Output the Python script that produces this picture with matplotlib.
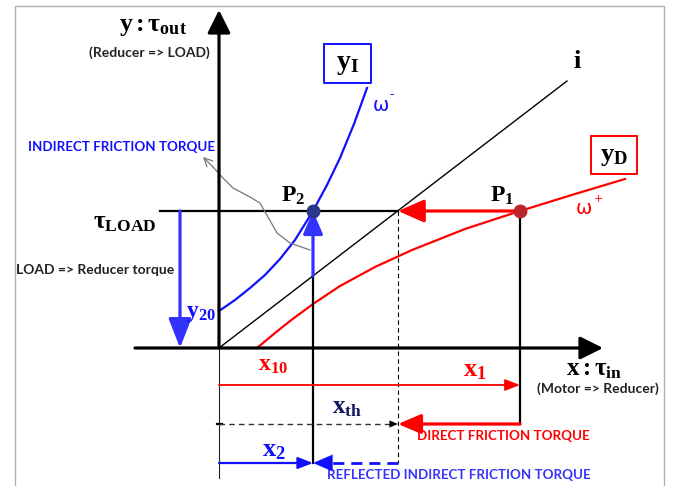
import matplotlib
matplotlib.use('Agg')
import matplotlib.pyplot as plt
import numpy as np

plt.rcParams['mathtext.fontset'] = 'custom'
plt.rcParams['mathtext.rm'] = 'Liberation Serif'
plt.rcParams['mathtext.bf'] = 'Liberation Serif:bold'
plt.rcParams['mathtext.it'] = 'Liberation Serif:italic'

# diagram geometry, in pixel units of the 678 x 486 picture (y grows downwards)
origin = (219, 348)
tau_load = 211
p1 = (520, 211)
p2 = (313, 211)
x_th = 398
i_end = (567, 81)

# friction curves
yI_x = [219, 235, 250, 265, 280, 295, 313, 327, 340, 354, 367]
yI_y = [311, 300, 288, 275, 259, 240, 211, 185, 158, 124, 88]
yD_x = [257, 275, 290, 313, 340, 375, 412, 465, 520, 575, 625]
yD_y = [348, 333, 321, 304, 286, 267, 250, 229, 211, 194, 179]

# grey wavy pointer to the indirect friction label
wave_x = [310, 290, 277, 268, 260, 250, 233, 222, 213, 203]
wave_y = [250, 243, 233, 217, 203, 197, 188, 177, 167, 157]

BLUE = '#1010ff'
ABLUE = '#3333ff'
RED = '#ff0000'

fig = plt.figure(figsize=(6.78, 4.86), dpi=100)
ax = fig.add_axes([0, 0, 1, 1])
ax.set_xlim(0, 678)
ax.set_ylim(486, 0)
ax.axis('off')


def arrow(start, end, color, lw, hw=7, hl=10, z=3):
    ax.annotate('', xy=end, xytext=start,
                arrowprops=dict(arrowstyle='-|>,head_width=%g,head_length=%g' % (hw / 2.0, hl),
                                color=color, lw=lw, shrinkA=0, shrinkB=0,
                                mutation_scale=1), zorder=z)


def head(end, direction, color, hw=7, hl=10):
    # solid arrow head only, at end pointing along direction
    start = (end[0] - direction[0] * 0.5, end[1] - direction[1] * 0.5)
    ax.annotate('', xy=end, xytext=start,
                arrowprops=dict(arrowstyle='-|>,head_width=%g,head_length=%g' % (hw / 2.0, hl),
                                color=color, lw=0.1, shrinkA=0, shrinkB=0,
                                mutation_scale=1), zorder=4)


# frame
ax.plot([15, 15, 664, 664], [490, 6, 6, 490], color='#b0b0b0', lw=1.0)

# axes
arrow((origin[0], origin[1]), (origin[0], 10), 'black', 2.3, hw=14, hl=14)
arrow((135, origin[1]), (603, origin[1]), 'black', 2.3, hw=14, hl=14)

# load level and i line
ax.plot([160, x_th], [tau_load, tau_load], color='black', lw=1.6)
ax.plot([origin[0], i_end[0]], [origin[1], i_end[1]], color='black', lw=1.0)

# curves
ax.plot(yI_x, yI_y, color=BLUE, lw=1.6, solid_joinstyle='round')
ax.plot(yD_x, yD_y, color=RED, lw=1.6, solid_joinstyle='round')

# verticals through P1 / P2
ax.plot([p1[0], p1[0]], [p1[1], 424], color='black', lw=1.6)
ax.plot([p2[0], p2[0]], [275, 463], color='black', lw=1.6)
ax.plot([origin[0], origin[0]], [origin[1], 478], color='#222222', lw=0.8)
ax.plot([x_th, x_th], [tau_load, 463], color='black', lw=0.8, ls=(0, (4, 3)))
ax.plot([217, 222], [424, 424], color='black', lw=1.6)

# arrows
arrow(p1, (x_th, tau_load), RED, 2.3, hw=14, hl=16)
arrow((p2[0], 276), (p2[0], tau_load), ABLUE, 2.3, hw=12, hl=14)
arrow((180, tau_load), (180, origin[1]), ABLUE, 2.3, hw=14, hl=18)
arrow((origin[0], 385), (p1[0], 385), RED, 1.3, hw=7, hl=9)
arrow((p1[0], 424), (x_th, 424), RED, 2.3, hw=12, hl=14)
ax.plot([origin[0], x_th - 6], [424, 424], color='#333333', lw=1.0, ls=(0, (4, 3)))
head((x_th, 424), (1, 0), 'black', hw=5, hl=6)
arrow((origin[0], 463), (p2[0], 463), BLUE, 1.6, hw=7, hl=9)
ax.plot([x_th, p2[0] + 14], [463, 463], color=BLUE, lw=2.0, ls=(0, (4, 2.5)))
head((p2[0], 463), (-1, 0), BLUE, hw=12, hl=14)

# grey pointer
ax.plot(wave_x[:-1], wave_y[:-1], color='#777777', lw=0.9, solid_joinstyle='round')
ax.annotate('', xy=(wave_x[-1], wave_y[-1]), xytext=(wave_x[-2], wave_y[-2]),
            arrowprops=dict(arrowstyle='->,head_width=3,head_length=6', color='#777777',
                            lw=0.9, shrinkA=0, shrinkB=0, mutation_scale=1))

# points
ax.plot(*p2, 'o', color='#2b3788', ms=9, zorder=5)
ax.plot(*p1, 'o', color='#b8262a', ms=9, zorder=5)

# boxes
ax.plot([324, 371, 371, 324, 324], [44, 44, 83, 83, 44], color=BLUE, lw=1.4)
ax.plot([591, 637, 637, 591, 591], [136, 136, 174, 174, 136], color=RED, lw=1.4)

# math labels
ser = dict(ha='center', va='center')
ax.text(153, 25, r'$\mathbf{y : \tau_{out}}$', fontsize=18.5, **ser)
ax.text(125, 222, r'$\mathbf{\tau_{LOAD}}$', fontsize=18, **ser)
ax.text(293, 195, r'$\mathbf{P_{2}}$', fontsize=17, **ser)
ax.text(502, 195, r'$\mathbf{P_{1}}$', fontsize=17, **ser)
ax.text(577, 61, r'$\mathbf{i}$', fontsize=19, **ser)
ax.text(347, 63, r'$\mathbf{y_{I}}$', fontsize=20, **ser)
ax.text(614, 155, r'$\mathbf{y_{D}}$', fontsize=19, **ser)
ax.text(201, 312, r'$\mathbf{y_{20}}$', fontsize=17, color=BLUE, **ser)
ax.text(273, 364, r'$\mathbf{x_{10}}$', fontsize=17, color=RED, **ser)
ax.text(475, 369, r'$\mathbf{x_{1}}$', fontsize=19, color=RED, **ser)
ax.text(594, 369, r'$\mathbf{x : \tau_{in}}$', fontsize=18, **ser)
ax.text(347, 407, r'$\mathbf{x_{th}}$', fontsize=18, color='#161660', **ser)
ax.text(274, 449, r'$\mathbf{x_{2}}$', fontsize=19, color=BLUE, **ser)

# omega labels (upright sans)
om = dict(ha='center', va='center', fontfamily='DejaVu Sans')
ax.text(381, 105, 'ω', fontsize=14, color=BLUE, **om)
ax.text(392, 95, '-', fontsize=9, color=BLUE, **om)
ax.text(584, 208, 'ω', fontsize=14, color=RED, **om)
ax.text(598, 199, '+', fontsize=8, color=RED, **om)

# captions
cap = dict(ha='center', va='center', fontfamily='Lato', fontweight='bold')
ax.text(149, 53, '(Reducer => LOAD)', color='#222222', fontsize=10, **cap)
ax.text(122, 147, 'INDIRECT FRICTION TORQUE', color=BLUE, fontsize=9.6, **cap)
ax.text(95, 270, 'LOAD => Reducer torque', color='#222222', fontsize=10, **cap)
ax.text(598, 389, '(Motor => Reducer)', color='#222222', fontsize=10, **cap)
ax.text(503, 436, 'DIRECT FRICTION TORQUE', color=RED, fontsize=9.6, **cap)
ax.text(459, 475, 'REFLECTED INDIRECT FRICTION TORQUE', color=ABLUE, fontsize=9.6, **cap)

fig.savefig('out.png', dpi=100)
